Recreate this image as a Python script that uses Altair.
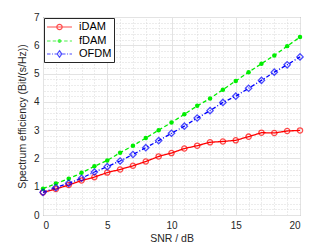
import altair as alt
import pandas as pd

snr = list(range(0, 21))
idam = [0.80, 0.92, 1.06, 1.22, 1.34, 1.50, 1.61, 1.74, 1.89, 2.07, 2.19,
        2.35, 2.45, 2.57, 2.60, 2.64, 2.77, 2.91, 2.90, 2.97, 2.99]
fdam = [0.93, 1.11, 1.28, 1.49, 1.72, 1.93, 2.20, 2.45, 2.72, 3.00, 3.27,
        3.56, 3.86, 4.12, 4.43, 4.74, 5.05, 5.35, 5.64, 5.97, 6.29]
ofdm = [0.80, 0.97, 1.12, 1.30, 1.52, 1.71, 1.91, 2.14, 2.38, 2.63, 2.89,
        3.14, 3.43, 3.69, 3.98, 4.20, 4.48, 4.76, 5.05, 5.31, 5.59]
series = ["iDAM", "fDAM", "OFDM"]
colors = ["#ff0000", "#00ee00", "#0000ff"]
x_ticks = [0, 5, 10, 15, 20]
y_ticks = [0, 1, 2, 3, 4, 5, 6, 7]
x_minor = list(range(0, 21))
y_minor = [i / 5 for i in range(0, 36)]

rows = []
for name, vals in zip(series, [idam, fdam, ofdm]):
    for s, v in zip(snr, vals):
        rows.append({"snr": s, "se": v, "series": name})
df = pd.DataFrame(rows)

FONT = "Liberation Sans"
U = 1 / 6  # legend path unit scale (1 unit = 6 px at symbolSize 144)
HALF = 2.08


def dashed(pattern, half=HALF):
    segs = []
    x = -half
    i = 0
    while x < half:
        ln = pattern[i % len(pattern)] * U
        if i % 2 == 0:
            segs.append("M%.3f,0H%.3f" % (x, min(x + ln, half)))
        x += ln
        i += 1
    return "".join(segs)


def circ(rr):
    return "M%.3f,0A%.3f,%.3f 0 1,0 %.3f,0A%.3f,%.3f 0 1,0 %.3f,0" % (
        -rr, rr, rr, rr, rr, rr, -rr)


paths = [
    "M-%.2f,0H%.2f" % (HALF, HALF) + circ(0.45),
    dashed([3.5, 2.2]) + circ(0.22) + circ(0.1),
    dashed([3.5, 1.5, 1, 1.5]) + "M0,-0.55L0.38,0L0,0.55L-0.38,0Z",
]
dashes = [[1, 0], [4, 2.5], [4, 2, 1, 2]]
markers = [
    dict(shape="circle", filled=False, size=28, strokeWidth=1.3),
    dict(shape="circle", filled=True, size=20, opacity=1),
    dict(shape="diamond", filled=False, size=40, strokeWidth=1.3),
]

xs = alt.Scale(domain=[0, 20], nice=False, zero=False)
ys = alt.Scale(domain=[0, 7], nice=False, zero=False)
cs = alt.Scale(domain=series, range=colors)

major_x = alt.Axis(values=x_ticks, title="SNR / dB", grid=True, domain=False,
                   ticks=False, labelPadding=5, titlePadding=3)
major_y = alt.Axis(values=y_ticks, title="Spectrum efficiency (Bit/(s/Hz))",
                   grid=True, domain=False, ticks=False, labelPadding=4,
                   titlePadding=6)
minor_x = alt.Axis(orient="top", values=x_minor, grid=True, labels=False,
                   ticks=False, domain=False, title=None, gridDash=[1, 2],
                   gridColor="#d9d9d9")
minor_y = alt.Axis(orient="right", values=y_minor, grid=True, labels=False,
                   ticks=False, domain=False, title=None, gridDash=[1, 2],
                   gridColor="#d9d9d9")

base = alt.Chart(df)

layers = [
    base.mark_point(opacity=0).encode(
        x=alt.X("snr:Q", scale=xs, axis=minor_x),
        y=alt.Y("se:Q", scale=ys, axis=minor_y),
    )
]

for i, (name, col) in enumerate(zip(series, colors)):
    sub = base.transform_filter(alt.datum.series == name)
    if i == 0:
        xe = alt.X("snr:Q", scale=xs, axis=major_x)
        ye = alt.Y("se:Q", scale=ys, axis=major_y)
    else:
        xe = alt.X("snr:Q", scale=xs, axis=None)
        ye = alt.Y("se:Q", scale=ys, axis=None)
    layers.append(sub.mark_line(color=col, strokeWidth=1.3,
                                strokeDash=dashes[i]).encode(x=xe, y=ye))
for i, (name, col) in enumerate(zip(series, colors)):
    sub = base.transform_filter(alt.datum.series == name)
    layers.append(sub.mark_point(color=col, **markers[i]).encode(
        x=alt.X("snr:Q", scale=xs, axis=None),
        y=alt.Y("se:Q", scale=ys, axis=None)))

leg = base.transform_filter(alt.datum.se < -100).mark_point(filled=False).encode(
    x=alt.X("snr:Q", scale=xs, axis=None), y=alt.Y("se:Q", scale=ys, axis=None),
    color=alt.Color("series:N", scale=cs, legend=alt.Legend(
        title=None, orient="top-left", offset=1, symbolSize=144,
        symbolOffset=6.5, symbolStrokeWidth=1.2, labelFontSize=11,
        labelFont=FONT, labelColor="#000000", labelOffset=12.5, rowPadding=1,
        padding=2, fillColor="#ffffff", strokeColor="#262626")),
    shape=alt.Shape("series:N", scale=alt.Scale(domain=series, range=paths)),
)
layers.append(leg)

chart = alt.layer(*layers).resolve_axis(
    x="independent", y="independent"
).properties(
    width=257, height=198,
    autosize=alt.AutoSizeParams(type="none"),
    padding={"left": 35, "top": 9, "right": 16, "bottom": 32},
).configure_view(
    stroke="#262626", strokeWidth=1
).configure_axis(
    labelFont=FONT, titleFont=FONT, labelFontSize=10, titleFontSize=10.5,
    labelColor="#262626", titleColor="#262626", titleFontWeight="normal",
    gridColor="#e3e3e3", gridWidth=1
)

chart.save("out.html", embed_options={"renderer": "svg", "actions": False})
